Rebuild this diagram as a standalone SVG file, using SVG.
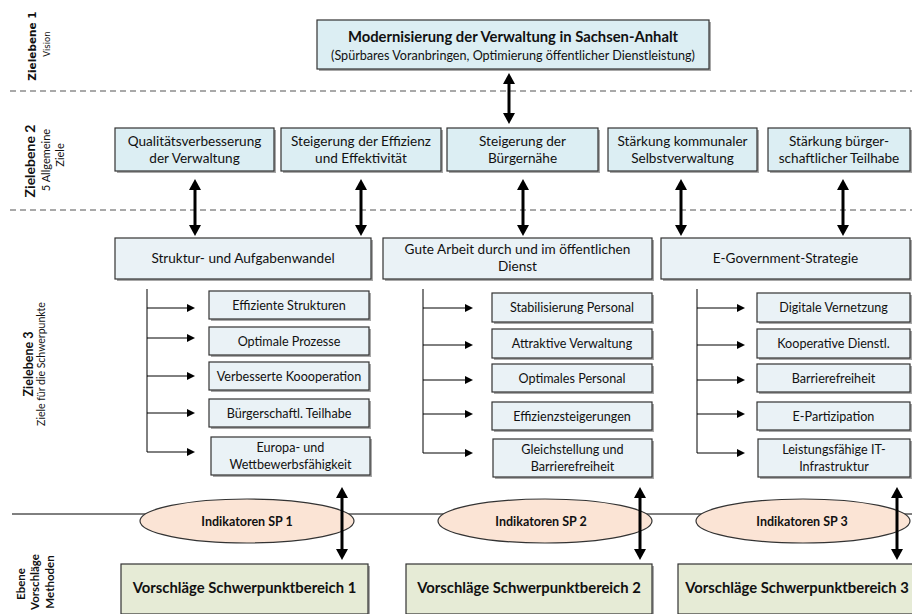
<svg xmlns="http://www.w3.org/2000/svg" width="912" height="614" viewBox="0 0 912 614">
<style>
  text { font-family: Lato, "Open Sans", "Liberation Sans", sans-serif; fill: #111; }
  .t { font-size: 13.6px; text-anchor: middle; }
  .s { font-size: 12.6px; text-anchor: middle; }
  .b { font-weight: bold; }
  .box1 { fill: #DCEEF3; stroke: #333; stroke-width: 1.2; }
  .box3 { fill: #EAF2F6; stroke: #333; stroke-width: 1.2; }
  .green { fill: #E6EBD6; stroke: #333; stroke-width: 1.2; }
  .ell { fill: #FBE4D5; stroke: #333; stroke-width: 1.2; }
  .shadow { fill: #a8a8a8; }
  .dash { stroke: #555; stroke-width: 1.2; stroke-dasharray: 6 4; fill: none; }
  .big { stroke: #000; stroke-width: 3; fill: none; marker-start: url(#bigHead); marker-end: url(#bigHead); }
  .thin { stroke: #000; stroke-width: 1; fill: none; }
  .arr { stroke: #000; stroke-width: 1; fill: none; marker-end: url(#smallHead); }
  .lab { font-family: Lato, "Open Sans", sans-serif; text-anchor: middle; }
</style>
<defs>
  <marker id="bigHead" markerUnits="userSpaceOnUse" markerWidth="12" markerHeight="12" refX="0" refY="6" orient="auto-start-reverse">
    <path d="M0,0 L11,6 L0,12 z" fill="#000"/>
  </marker>
  <marker id="smallHead" markerUnits="userSpaceOnUse" markerWidth="9" markerHeight="8" refX="0" refY="4" orient="auto">
    <path d="M0,0 L8,4 L0,8 z" fill="#000"/>
  </marker>
</defs>

<!-- side labels -->
<g id="labels">
  <text transform="translate(36,46) rotate(-90)" style="font-family:'DejaVu Sans',Verdana,sans-serif;font-size:10.5px;font-weight:bold;text-anchor:middle">Zielebene 1</text>
  <text transform="translate(50,44) rotate(-90)" style="font-family:'DejaVu Sans',Verdana,sans-serif;font-size:8.5px;text-anchor:middle">Vision</text>
  <text class="lab b" transform="translate(35,161) rotate(-90)" style="font-size:14px">Zielebene 2</text>
  <text class="lab" transform="translate(50,160) rotate(-90)" style="font-size:11px">5 Allgemeine</text>
  <text class="lab" transform="translate(64,155) rotate(-90)" style="font-size:11px">Ziele</text>
  <text class="lab b" transform="translate(33,364) rotate(-90)" style="font-size:12.5px">Zielebene 3</text>
  <text class="lab" transform="translate(45,364) rotate(-90)" style="font-size:10.5px">Ziele für die Schwerpunkte</text>
  <text class="lab b" transform="translate(25,584) rotate(-90)" style="font-size:11.5px">Ebene</text>
  <text class="lab b" transform="translate(39,582) rotate(-90)" style="font-size:11.5px">Vorschläge</text>
  <text class="lab b" transform="translate(54,582) rotate(-90)" style="font-size:11.5px">Methoden</text>
</g>

<!-- dividers and connectors -->
<g id="connectors">
  <line class="dash" x1="10" y1="91" x2="912" y2="91"/>
  <line class="dash" x1="10" y1="210" x2="912" y2="210"/>
  <line class="thin" x1="12" y1="514" x2="912" y2="514"/>

  <line class="big" x1="509" y1="84" x2="509" y2="113"/>
  <line class="big" x1="195" y1="190" x2="195" y2="225"/>
  <line class="big" x1="361" y1="190" x2="361" y2="225"/>
  <line class="big" x1="523" y1="190" x2="523" y2="225"/>
  <line class="big" x1="681" y1="190" x2="681" y2="225"/>
  <line class="big" x1="843" y1="190" x2="843" y2="225"/>

  <!-- bracket group 1 -->
  <path class="thin" d="M147,289 V452"/>
  <line class="arr" x1="147" y1="308" x2="187" y2="308"/>
  <line class="arr" x1="147" y1="338" x2="187" y2="338"/>
  <line class="arr" x1="147" y1="376" x2="187" y2="376"/>
  <line class="arr" x1="147" y1="413" x2="187" y2="413"/>
  <line class="arr" x1="147" y1="452" x2="187" y2="452"/>
  <!-- bracket group 2 -->
  <path class="thin" d="M423,289 V453"/>
  <line class="arr" x1="423" y1="308" x2="465" y2="308"/>
  <line class="arr" x1="423" y1="345" x2="465" y2="345"/>
  <line class="arr" x1="423" y1="380" x2="465" y2="380"/>
  <line class="arr" x1="423" y1="414" x2="465" y2="414"/>
  <line class="arr" x1="423" y1="453" x2="465" y2="453"/>
  <!-- bracket group 3 -->
  <path class="thin" d="M697,289 V453"/>
  <line class="arr" x1="697" y1="308" x2="737" y2="308"/>
  <line class="arr" x1="697" y1="345" x2="737" y2="345"/>
  <line class="arr" x1="697" y1="380" x2="737" y2="380"/>
  <line class="arr" x1="697" y1="414" x2="737" y2="414"/>
  <line class="arr" x1="697" y1="453" x2="737" y2="453"/>
</g>

<!-- Level 1 -->
<g id="vision">
  <rect class="shadow" x="319" y="22" width="392" height="49"/>
  <rect class="box1" x="317" y="20" width="392" height="49"/>
  <text class="b" x="513" y="42" style="font-size:14.8px;text-anchor:middle">Modernisierung der Verwaltung in Sachsen-Anhalt</text>
  <text x="513" y="60" style="font-size:12.6px;text-anchor:middle">(Spürbares Voranbringen, Optimierung öffentlicher Dienstleistung)</text>
</g>

<!-- Level 2 -->
<g id="z2-1">
  <rect class="shadow" x="117" y="130" width="159" height="43"/>
  <rect class="box1" x="115" y="128" width="159" height="43"/>
  <text class="t" x="194.5" y="146">Qualitätsverbesserung</text>
  <text class="t" x="194.5" y="163">der Verwaltung</text>
</g>
<g id="z2-2">
  <rect class="shadow" x="283" y="130" width="160" height="43"/>
  <rect class="box1" x="281" y="128" width="160" height="43"/>
  <text class="t" x="361" y="146">Steigerung der Effizienz</text>
  <text class="t" x="361" y="163">und Effektivität</text>
</g>
<g id="z2-3">
  <rect class="shadow" x="449" y="130" width="151" height="43"/>
  <rect class="box1" x="447" y="128" width="151" height="43"/>
  <text class="t" x="522.5" y="146">Steigerung der</text>
  <text class="t" x="522.5" y="163">Bürgernähe</text>
</g>
<g id="z2-4">
  <rect class="shadow" x="610" y="130" width="149" height="43"/>
  <rect class="box1" x="608" y="128" width="149" height="43"/>
  <text class="t" x="682.5" y="146">Stärkung kommunaler</text>
  <text class="t" x="682.5" y="163">Selbstverwaltung</text>
</g>
<g id="z2-5">
  <rect class="shadow" x="770" y="130" width="142" height="43"/>
  <rect class="box1" x="768" y="128" width="142" height="43"/>
  <text class="t" x="839" y="146">Stärkung bürger-</text>
  <text class="t" x="839" y="163">schaftlicher Teilhabe</text>
</g>

<!-- Level 3 headers -->
<g id="sp1">
  <rect class="shadow" x="117" y="240" width="256" height="41"/>
  <rect class="box3" x="115" y="238" width="256" height="41"/>
  <text class="t" x="243" y="263">Struktur- und Aufgabenwandel</text>
</g>
<g id="sp2">
  <rect class="shadow" x="385" y="240" width="269" height="41"/>
  <rect class="box3" x="383" y="238" width="269" height="41"/>
  <text class="t" x="517.5" y="254">Gute Arbeit durch und im öffentlichen</text>
  <text class="t" x="517.5" y="271">Dienst</text>
</g>
<g id="sp3">
  <rect class="shadow" x="663" y="240" width="249" height="41"/>
  <rect class="box3" x="661" y="238" width="249" height="41"/>
  <text class="t" x="785.5" y="263">E-Government-Strategie</text>
</g>

<!-- SP1 sub goals -->
<g id="sp1-a"><rect class="shadow" x="211" y="293" width="160" height="28"/><rect class="box3" x="209" y="291" width="160" height="28"/><text class="s" x="289" y="309.5">Effiziente Strukturen</text></g>
<g id="sp1-b"><rect class="shadow" x="211" y="329" width="160" height="28"/><rect class="box3" x="209" y="327" width="160" height="28"/><text class="s" x="289" y="345.5">Optimale Prozesse</text></g>
<g id="sp1-c"><rect class="shadow" x="211" y="364" width="160" height="28"/><rect class="box3" x="209" y="362" width="160" height="28"/><text class="s" x="289" y="380.5">Verbesserte Koooperation</text></g>
<g id="sp1-d"><rect class="shadow" x="211" y="401" width="160" height="28"/><rect class="box3" x="209" y="399" width="160" height="28"/><text class="s" x="289" y="417.5">Bürgerschaftl. Teilhabe</text></g>
<g id="sp1-e"><rect class="shadow" x="213" y="439" width="159" height="38"/><rect class="box3" x="211" y="437" width="159" height="38"/><text class="s" x="290.5" y="452">Europa- und</text><text class="s" x="290.5" y="469">Wettbewerbsfähigkeit</text></g>

<!-- SP2 sub goals -->
<g id="sp2-a"><rect class="shadow" x="494" y="295" width="160" height="29"/><rect class="box3" x="492" y="293" width="160" height="29"/><text class="s" x="572" y="312">Stabilisierung Personal</text></g>
<g id="sp2-b"><rect class="shadow" x="494" y="331" width="160" height="29"/><rect class="box3" x="492" y="329" width="160" height="29"/><text class="s" x="572" y="348">Attraktive Verwaltung</text></g>
<g id="sp2-c"><rect class="shadow" x="494" y="366" width="160" height="28"/><rect class="box3" x="492" y="364" width="160" height="28"/><text class="s" x="572" y="382.5">Optimales Personal</text></g>
<g id="sp2-d"><rect class="shadow" x="494" y="404" width="160" height="28"/><rect class="box3" x="492" y="402" width="160" height="28"/><text class="s" x="572" y="420.5">Effizienzsteigerungen</text></g>
<g id="sp2-e"><rect class="shadow" x="495" y="441" width="159" height="38"/><rect class="box3" x="493" y="439" width="159" height="38"/><text class="s" x="572.5" y="454">Gleichstellung und</text><text class="s" x="572.5" y="471">Barrierefreiheit</text></g>

<!-- SP3 sub goals -->
<g id="sp3-a"><rect class="shadow" x="759" y="295" width="153" height="29"/><rect class="box3" x="757" y="293" width="153" height="29"/><text class="s" x="833.5" y="312">Digitale Vernetzung</text></g>
<g id="sp3-b"><rect class="shadow" x="759" y="331" width="153" height="29"/><rect class="box3" x="757" y="329" width="153" height="29"/><text class="s" x="833.5" y="348">Kooperative Dienstl.</text></g>
<g id="sp3-c"><rect class="shadow" x="759" y="366" width="153" height="28"/><rect class="box3" x="757" y="364" width="153" height="28"/><text class="s" x="833.5" y="382.5">Barrierefreiheit</text></g>
<g id="sp3-d"><rect class="shadow" x="759" y="404" width="153" height="28"/><rect class="box3" x="757" y="402" width="153" height="28"/><text class="s" x="833.5" y="420.5">E-Partizipation</text></g>
<g id="sp3-e"><rect class="shadow" x="760" y="441" width="152" height="38"/><rect class="box3" x="758" y="439" width="152" height="38"/><text class="s" x="834" y="454">Leistungsfähige IT-</text><text class="s" x="834" y="471">Infrastruktur</text></g>

<!-- Indicators -->
<g id="ind1"><ellipse class="ell" cx="247" cy="521" rx="107" ry="22"/><text class="b" x="247" y="525.5" style="font-size:12.5px;text-anchor:middle">Indikatoren SP 1</text></g>
<g id="ind2"><ellipse class="ell" cx="545" cy="521" rx="107" ry="22"/><text class="b" x="541" y="525.5" style="font-size:12.5px;text-anchor:middle">Indikatoren SP 2</text></g>
<g id="ind3"><ellipse class="ell" cx="803" cy="521" rx="107" ry="22"/><text class="b" x="802" y="525.5" style="font-size:12.5px;text-anchor:middle">Indikatoren SP 3</text></g>

<g id="ind-arrows">
  <line class="big" x1="342" y1="498" x2="342" y2="549"/>
  <line class="big" x1="640" y1="498" x2="640" y2="549"/>
  <line class="big" x1="897" y1="498" x2="897" y2="549"/>
</g>

<!-- Proposals -->
<g id="vor1"><rect class="shadow" x="123" y="566" width="247" height="50"/><rect class="green" x="121" y="564" width="247" height="50"/><text class="b" x="244.5" y="593" style="font-size:14.8px;text-anchor:middle">Vorschläge Schwerpunktbereich 1</text></g>
<g id="vor2"><rect class="shadow" x="408" y="566" width="246" height="50"/><rect class="green" x="406" y="564" width="246" height="50"/><text class="b" x="529" y="593" style="font-size:14.8px;text-anchor:middle">Vorschläge Schwerpunktbereich 2</text></g>
<g id="vor3"><rect class="shadow" x="680" y="566" width="234" height="50"/><rect class="green" x="678" y="564" width="236" height="50"/><text class="b" x="797" y="593" style="font-size:14.8px;text-anchor:middle">Vorschläge Schwerpunktbereich 3</text></g>
</svg>
